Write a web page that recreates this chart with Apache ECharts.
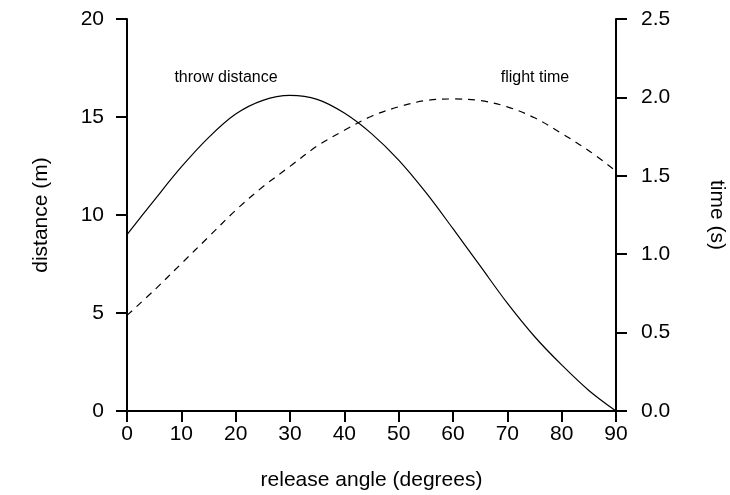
<!DOCTYPE html>
<html>
<head>
<meta charset="utf-8">
<script src="https://cdn.jsdelivr.net/npm/echarts@6/dist/echarts.min.js"></script>
<style>html,body{margin:0;padding:0;background:#fff}#c{width:730px;height:495px}</style>
</head>
<body>
<div id="c"></div>
<script>
const angles = [0,5,10,15,20,25,30,35,40,45,50,55,60,65,70,75,80,85,90];
const distance = [9.0,10.75,12.45,13.95,15.15,15.85,16.1,15.9,15.2,14.15,12.8,11.15,9.3,7.4,5.5,3.8,2.35,1.05,0];
const flightTime = [0.61,0.77,0.94,1.11,1.28,1.43,1.56,1.69,1.79,1.88,1.94,1.98,1.99,1.98,1.94,1.87,1.77,1.66,1.53];
const xTicks = [0,10,20,30,40,50,60,70,80,90];
const leftTicks = [0,5,10,15,20];
const rightTicks = [0.0,0.5,1.0,1.5,2.0,2.5];

const FONT = 'Liberation Sans, Arial, sans-serif';
const axisCommon = {
  axisLine: {show: true, onZero: false, lineStyle: {color: '#000', width: 2}},
  axisTick: {show: true, inside: false, length: 11, lineStyle: {color: '#000', width: 2}},
  splitLine: {show: false},
  axisLabel: {color: '#000', fontSize: 21, fontFamily: FONT},
  nameTextStyle: {color: '#000', fontSize: 21, fontFamily: FONT}
};

const chart = echarts.init(document.getElementById('c'), null, {renderer: 'canvas'});
chart.setOption({
  animation: false,
  backgroundColor: '#fff',
  grid: {left: 127, right: 114, top: 19, bottom: 84, containLabel: false, outerBoundsMode: 'none'},
  xAxis: Object.assign({}, axisCommon, {
    type: 'value', min: xTicks[0], max: xTicks[xTicks.length-1], interval: 10,
    name: 'release angle (degrees)', nameLocation: 'middle', nameGap: 59,
    axisLabel: Object.assign({}, axisCommon.axisLabel, {margin: 13})
  }),
  yAxis: [
    Object.assign({}, axisCommon, {
      type: 'value', min: leftTicks[0], max: leftTicks[leftTicks.length-1], interval: 5,
      position: 'left',
      name: 'distance (m)', nameLocation: 'middle', nameGap: 75, nameRotate: 90,
      axisLabel: Object.assign({}, axisCommon.axisLabel, {margin: 23})
    }),
    Object.assign({}, axisCommon, {
      type: 'value', min: rightTicks[0], max: rightTicks[rightTicks.length-1], interval: 0.5,
      position: 'right',
      name: 'time (s)', nameLocation: 'middle', nameGap: 90, nameRotate: -90,
      axisLabel: Object.assign({}, axisCommon.axisLabel, {margin: 25, formatter: v => v.toFixed(1)})
    })
  ],
  series: [
    {
      type: 'line', name: 'throw distance', yAxisIndex: 0, smooth: 0.35, showSymbol: false,
      data: angles.map((a, i) => [a, distance[i]]),
      lineStyle: {color: '#000', width: 1.2, type: 'solid'}
    },
    {
      type: 'line', name: 'flight time', yAxisIndex: 1, smooth: 0.35, showSymbol: false,
      data: angles.map((a, i) => [a, flightTime[i]]),
      lineStyle: {color: '#000', width: 1.2, type: [7, 6]}
    }
  ],
  graphic: [
    {type: 'text', x: 226, y: 78, style: {text: 'throw distance', fill: '#000', font: '16px ' + FONT, align: 'center', verticalAlign: 'middle'}},
    {type: 'text', x: 535, y: 78, style: {text: 'flight time', fill: '#000', font: '16px ' + FONT, align: 'center', verticalAlign: 'middle'}}
  ]
});
</script>
</body>
</html>
